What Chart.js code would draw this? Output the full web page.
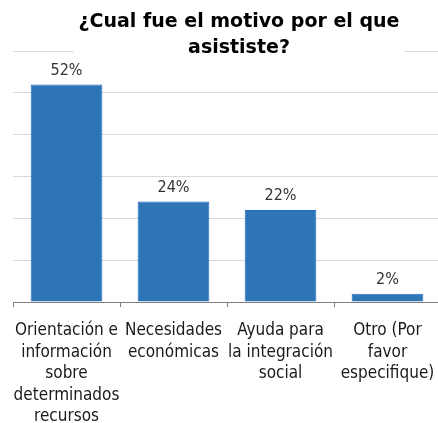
<!DOCTYPE html>
<html>
<head>
<meta charset="utf-8">
<script src="https://cdn.jsdelivr.net/npm/chart.js@4/dist/chart.umd.min.js"></script>
<style>
  html, body { margin: 0; padding: 0; background: #fff; overflow: hidden; }
  #wrap { width: 438px; height: 423px; overflow: hidden; position: relative; }
  canvas { display: block; }
</style>
</head>
<body>
<div id="wrap"><canvas id="c" width="441" height="423"></canvas></div>
<script>
// Survey answers and their share of respondents (percent)
const titleLines = ['¿Cual fue el motivo por el que', 'asististe?'];
const categories = [
  ['Orientación e', 'información', 'sobre', 'determinados', 'recursos'],
  ['Necesidades', 'económicas'],
  ['Ayuda para', 'la integración', 'social'],
  ['Otro (Por', 'favor', 'especifique)']
];
const values = [52, 24, 22, 2];
const axisMax = 60;
const axisStep = 10;

const labelFamily = '"DejaVu Sans Condensed", "DejaVu Sans"';

// Title drawn over the top of the plot, with a white backing
const titlePlugin = {
  id: 'boxedTitle',
  afterDraw(chart) {
    const ctx = chart.ctx;
    ctx.save();
    ctx.font = 'bold 19px "DejaVu Sans"';
    ctx.textAlign = 'center';
    ctx.textBaseline = 'alphabetic';
    const cx = 239;
    const baselines = [27, 53];
    let w = 0;
    titleLines.forEach(t => { w = Math.max(w, ctx.measureText(t).width); });
    ctx.fillStyle = '#ffffff';
    ctx.fillRect(cx - w / 2 - 5, 4, w + 10, 56);
    ctx.fillStyle = '#000000';
    titleLines.forEach((t, i) => ctx.fillText(t, cx, baselines[i]));
    ctx.restore();
  }
};

// Percent labels above each bar
const valueLabels = {
  id: 'valueLabels',
  afterDatasetsDraw(chart) {
    const ctx = chart.ctx;
    const meta = chart.getDatasetMeta(0);
    ctx.save();
    ctx.font = '16px ' + labelFamily;
    ctx.fillStyle = '#333333';
    ctx.textAlign = 'center';
    ctx.textBaseline = 'middle';
    meta.data.forEach((bar, i) => {
      ctx.fillText(values[i] + '%', bar.x, bar.y - 14);
    });
    ctx.restore();
  }
};

new Chart(document.getElementById('c'), {
  type: 'bar',
  data: {
    labels: categories,
    datasets: [{
      data: values,
      backgroundColor: '#2E75B6',
      borderColor: '#1F6BC8',
      borderWidth: 1,
      barPercentage: 0.67,
      categoryPercentage: 1
    }]
  },
  options: {
    responsive: false,
    animation: false,
    layout: { padding: { left: 13, top: 51, right: 0, bottom: 0 } },
    plugins: {
      legend: { display: false },
      title: { display: false },
      tooltip: { enabled: false }
    },
    scales: {
      x: {
        afterFit(scale) {
          scale.height = 121;
          scale.paddingLeft = 0;
          scale.paddingRight = 0;
        },
        grid: {
          display: true,
          drawOnChartArea: false,
          drawTicks: true,
          tickLength: 5,
          color: '#808080',
          offset: true
        },
        border: { display: true, color: '#808080' },
        ticks: {
          autoSkip: false,
          maxRotation: 0,
          minRotation: 0,
          padding: 13,
          color: '#1a1a1a',
          font: { family: labelFamily, size: 17, lineHeight: 1.265 }
        }
      },
      y: {
        min: 0,
        max: axisMax,
        ticks: { display: false, stepSize: axisStep },
        grid: { color: '#d9d9d9', drawTicks: false },
        border: { display: false }
      }
    }
  },
  plugins: [valueLabels, titlePlugin]
});
</script>
</body>
</html>
